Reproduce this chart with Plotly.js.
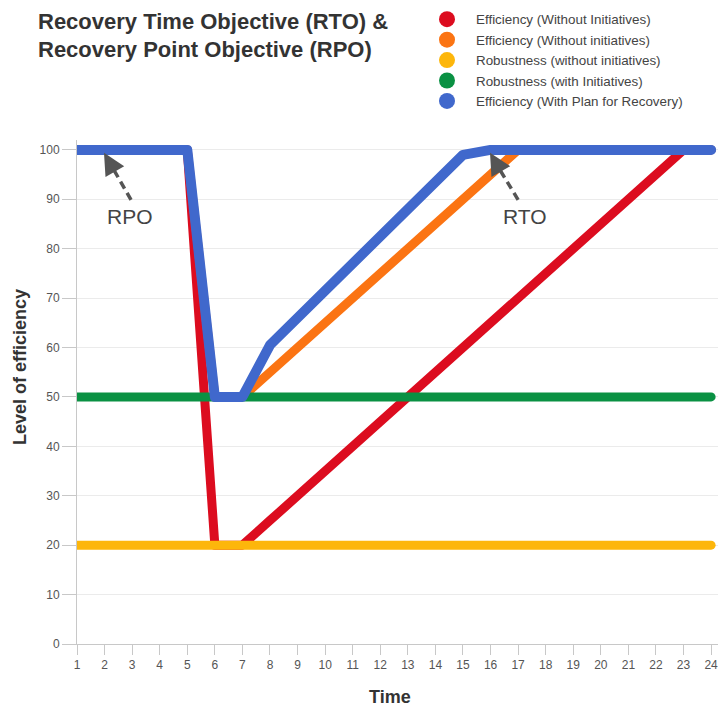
<!DOCTYPE html>
<html>
<head>
<meta charset="utf-8">
<script src="https://cdn.plot.ly/plotly-3.0.1.min.js"></script>
<style>
html,body{margin:0;padding:0;background:#fff;}
#chart{width:720px;height:707px;}
#chart .scatterlayer .js-line{stroke-linejoin:round;stroke-linecap:round;}
</style>
</head>
<body>
<div id="chart"></div>
<script>
const time = [1,2,3,4,5,6,7,8,9,10,11,12,13,14,15,16,17,18,19,20,21,22,23,24];
const seriesNames = [
  "Efficiency (Without Initiatives)",
  "Efficiency (Without initiatives)",
  "Robustness (without initiatives)",
  "Robustness (with Initiatives)",
  "Efficiency (With Plan for Recovery)"
];
const seriesColors = ["#dc0c1f", "#fb7413", "#fdb60b", "#0a9143", "#4068cc"];
const effWithout = [100,100,100,100,100,20,20,25,30,35,40,45,50,55,60,65,70,75,80,85,90,95,100,100];
const effWithoutOrange = [100,100,100,100,100,50,50,55,60,65,70,75,80,85,90,95,100,100,100,100,100,100,100,100];
const robWithout = [20,20,20,20,20,20,20,20,20,20,20,20,20,20,20,20,20,20,20,20,20,20,20,20];
const robWith = [50,50,50,50,50,50,50,50,50,50,50,50,50,50,50,50,50,50,50,50,50,50,50,50];
const effPlan = [100,100,100,100,100,50,50,60.5,66,71.5,77,82.5,88,93.5,99,100,100,100,100,100,100,100,100,100];
const yTicks = [0,10,20,30,40,50,60,70,80,90,100];
const seriesValues = [effWithout, effWithoutOrange, robWithout, robWith, effPlan];
const lineWidths = [9, 9, 9, 9, 10];

// annotation anchors (data coords): [tip, head base, tail, label]
const rpoArrow = {tip: [1.98, 99.4], base: [2.27, 96.6], tail: [2.96, 89.9], label: [2.92, 86.6]};
const rtoArrow = {tip: [15.98, 99.4], base: [16.27, 96.6], tail: [17.0, 89.9], label: [17.25, 86.6]};

const font = "Liberation Sans, Arial, sans-serif";
const traces = [];
seriesValues.forEach((vals, i) => {
  traces.push({
    x: time, y: vals, type: "scatter", mode: "lines",
    line: {color: seriesColors[i], width: lineWidths[i]},
    name: seriesNames[i], legendgroup: "g" + i, showlegend: false,
    hoverinfo: "x+y"
  });
});
seriesValues.forEach((vals, i) => {
  traces.push({
    x: [null], y: [null], type: "scatter", mode: "markers",
    marker: {color: seriesColors[i], size: 16},
    name: seriesNames[i], legendgroup: "g" + i, showlegend: true
  });
});

function arrowParts(a, label) {
  return {
    shape: {type: "line", xref: "x", yref: "y", x0: a.tail[0], y0: a.tail[1], x1: a.base[0], y1: a.base[1],
            line: {color: "#555", width: 3.5, dash: "8px,5px"}},
    head: {x: a.tip[0], y: a.tip[1], xref: "x", yref: "y", ax: a.base[0], ay: a.base[1], axref: "x", ayref: "y",
           showarrow: true, arrowhead: 2, arrowsize: 1.35, arrowwidth: 3.2, arrowcolor: "#555", text: ""},
    label: {x: a.label[0], y: a.label[1], xref: "x", yref: "y", text: label, showarrow: false,
            font: {family: font, size: 21, color: "#444"}}
  };
}
const rpo = arrowParts(rpoArrow, "RPO");
const rto = arrowParts(rtoArrow, "RTO");

const layout = {
  width: 720, height: 707,
  margin: {l: 77, r: 2, t: 140, b: 63, autoexpand: false},
  paper_bgcolor: "#fff", plot_bgcolor: "#fff",
  font: {family: font, color: "#444"},
  title: {
    text: "<b>Recovery Time Objective (RTO) &<br>Recovery Point Objective (RPO)</b>",
    x: 38/720, xanchor: "left", xref: "container", y: 1 - 28.5/707, yanchor: "top", yref: "container",
    font: {family: font, size: 22, color: "#333"}
  },
  legend: {
    x: (418-77)/641, xanchor: "left", xref: "paper",
    y: (644-4)/504, yanchor: "top", yref: "paper",
    font: {family: font, size: 13.4, color: "#444"},
    itemwidth: 48,
    bgcolor: "rgba(0,0,0,0)", tracegroupgap: 0
  },
  xaxis: {
    range: [1, 24.25], tickmode: "array", tickvals: time, ticktext: time.map(String),
    tickangle: 0,
    showgrid: false, zeroline: false, showline: true, linecolor: "#c8c8c8", linewidth: 1,
    ticks: "outside", ticklen: 10, tickcolor: "#c8c8c8",
    tickfont: {family: font, size: 12, color: "#555"}
  },
  yaxis: {
    range: [0, 102], tickmode: "array", tickvals: yTicks,
    showgrid: true, gridcolor: "#ebebeb", zeroline: false,
    showline: true, linecolor: "#c8c8c8", linewidth: 1,
    ticks: "outside", ticklen: 14, tickcolor: "#c8c8c8",
    tickfont: {family: font, size: 12, color: "#555"}
  },
  shapes: [rpo.shape, rto.shape],
  annotations: [
    rpo.head, rto.head, rpo.label, rto.label,
    {x: (20-77)/641, y: (644-367)/504, xref: "paper", yref: "paper", textangle: -90,
     xanchor: "center", yanchor: "middle", showarrow: false,
     text: "<b>Level of efficiency</b>", font: {family: font, size: 18, color: "#333"}},
    {x: (390-77)/641, y: (644-697)/504, xref: "paper", yref: "paper",
     xanchor: "center", yanchor: "middle", showarrow: false,
     text: "<b>Time</b>", font: {family: font, size: 18, color: "#333"}}
  ]
};

Plotly.newPlot("chart", traces, layout, {displayModeBar: false, responsive: false});
</script>
</body>
</html>
